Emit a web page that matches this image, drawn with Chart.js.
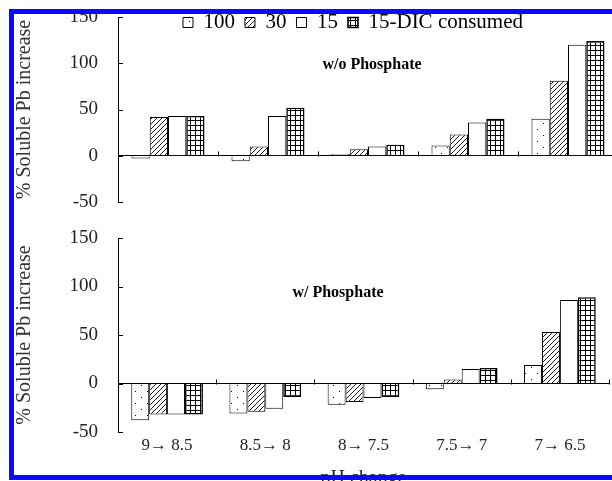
<!DOCTYPE html>
<html>
<head>
<meta charset="utf-8">
<script src="https://cdn.jsdelivr.net/npm/chart.js@4.4.1/dist/chart.umd.min.js"></script>
<style>
  html, body { margin: 0; padding: 0; background: #fff; overflow: hidden; width: 612px; height: 481px; }
  #wrap { position: relative; width: 612px; height: 481px; overflow: hidden; }
  canvas { position: absolute; left: 0; }
  #top { top: 0; }
  #bottom { top: 220px; }
  #frame {
    position: absolute; left: 9px; top: 9px; width: 700px; height: 471px; box-sizing: border-box;
    border-left: 5px solid #0a0aff; border-top: 5px solid #0a0aff; border-bottom: 5px solid #0a0aff;
    pointer-events: none;
  }
</style>
</head>
<body>
<div id="wrap">
  <canvas id="top" width="630" height="220"></canvas>
  <canvas id="bottom" width="630" height="280"></canvas>
  <div id="frame"></div>
</div>
<script>
const categories = ['9\u2192 8.5', '8.5\u2192 8', '8\u2192 7.5', '7.5\u2192 7', '7\u2192 6.5'];
const seriesNames = ['100', '30', '15', '15-DIC consumed'];
const yTicks = [-50, 0, 50, 100, 150];

// w/o phosphate
const noP100 = [-3, -6, 2, 11, 40];
const noP30 = [42, 10, 7, 23, 81];
const noP15 = [43, 43, 10, 36, 120];
const noPDic = [43, 52, 12, 40, 124];

// w/ phosphate
const withP100 = [-38, -31, -22, -6, 19];
const withP30 = [-32, -29, -19, 4, 53];
const withP15 = [-32, -26, -15, 15, 86];
const withPDic = [-32, -14, -14, 16, 89];

const serif = "'Liberation Serif', 'Times New Roman', serif";

function makePattern(type) {
    const c = document.createElement('canvas');
    const size = { dots: [12, 12], hatch: [5, 5], grid: [5, 5] }[type];
    c.width = size[0];
    c.height = size[1];
    const g = c.getContext('2d');
    g.fillStyle = '#fff';
    g.fillRect(0, 0, c.width, c.height);
    g.fillStyle = '#000';
    g.strokeStyle = '#000';
    if (type === 'dots') {
        g.fillRect(3, 3, 1, 1);
        g.fillRect(9, 9, 1, 1);
    } else if (type === 'hatch') {
        g.lineWidth = 0.9;
        g.beginPath();
        g.moveTo(0, 5); g.lineTo(5, 0);
        g.moveTo(-1, 1); g.lineTo(1, -1);
        g.moveTo(4, 6); g.lineTo(6, 4);
        g.stroke();
    } else if (type === 'grid') {
        g.fillRect(0, 0, 5, 1);
        g.fillRect(0, 0, 1, 5);
    }
    return g.createPattern(c, 'repeat');
}

const fills = [makePattern('dots'), makePattern('hatch'), '#fff', makePattern('grid')];
const borders = [1, 1, 1, 1.6];

function buildDatasets(values) {
    return values.map((v, i) => ({
        label: seriesNames[i],
        data: v,
        backgroundColor: fills[i],
        borderColor: '#000',
        borderWidth: borders[i]
    }));
}

// inward axis ticks, category ticks on the zero line, panel caption
const panelMarks = {
    id: 'panelMarks',
    afterDraw(chart, args, opts) {
        const { ctx, scales: { x, y } } = chart;
        const y0 = Math.round(y.getPixelForValue(0)) + 0.5;
        ctx.save();
        ctx.strokeStyle = '#000';
        ctx.lineWidth = 1;
        ctx.beginPath();
        y.ticks.forEach(t => {
            const py = Math.round(y.getPixelForValue(t.value)) + 0.5;
            ctx.moveTo(x.left, py);
            ctx.lineTo(x.left + 5, py);
        });
        for (let i = 1; i <= categories.length; i++) {
            const px = Math.round(x.getPixelForValue(i - 0.5)) + 0.5;
            ctx.moveTo(px, y0);
            ctx.lineTo(px, y0 - 5);
        }
        ctx.stroke();
        ctx.fillStyle = '#000';
        ctx.font = 'bold 16px ' + serif;
        ctx.textAlign = 'center';
        ctx.textBaseline = 'middle';
        ctx.fillText(opts.note, opts.noteX, opts.noteY);
        ctx.restore();
    }
};

// legend takes ~no room in the layout, then gets moved inside the plot
const legendShift = {
    id: 'legendShift',
    afterLayout(chart) {
        const l = chart.legend;
        if (!l || !l.options.display) return;
        l.left += 44; l.right += 44;
        l.top = 2; l.bottom = 47;
    }
};

function yScale() {
    return {
        min: yTicks[0],
        max: yTicks[yTicks.length - 1],
        afterFit: s => {
            s.width = 118;
            s.paddingTop = 0;
            s.paddingBottom = 0;
        },
        ticks: { stepSize: 50, padding: 20, color: '#222', font: { family: serif, size: 19 } },
        grid: {
            drawTicks: false,
            color: c => (c.tick && c.tick.value === 0 ? '#000' : 'rgba(0,0,0,0)'),
            lineWidth: 1
        },
        border: { display: true, color: '#000', width: 1 },
        title: {
            display: true,
            text: '% Soluble Pb increase',
            color: '#333',
            font: { family: serif, size: 20 },
            padding: { top: 13, bottom: 0 }
        }
    };
}

const topChart = new Chart(document.getElementById('top'), {
    type: 'bar',
    data: { labels: categories, datasets: buildDatasets([noP100, noP30, noP15, noPDic]) },
    options: {
        responsive: false,
        animation: false,
        events: [],
        layout: { padding: { left: 0, top: 16, right: 12, bottom: 18 } },
        datasets: { bar: { barPercentage: 1, categoryPercentage: 0.73 } },
        scales: {
            x: { display: false },
            y: yScale()
        },
        plugins: {
            legend: {
                display: true,
                position: 'top',
                align: 'center',
                maxHeight: 1,
                labels: { boxWidth: 10, boxHeight: 10, padding: 10, color: '#000', font: { family: serif, size: 21 } }
            },
            tooltip: { enabled: false },
            panelMarks: { note: 'w/o Phosphate', noteX: 372, noteY: 65 }
        }
    },
    plugins: [panelMarks, legendShift]
});

const bottomChart = new Chart(document.getElementById('bottom'), {
    type: 'bar',
    data: { labels: categories, datasets: buildDatasets([withP100, withP30, withP15, withPDic]) },
    options: {
        responsive: false,
        animation: false,
        events: [],
        layout: { padding: { left: 0, top: 18, right: 21, bottom: 0 } },
        datasets: { bar: { barPercentage: 1, categoryPercentage: 0.73 } },
        scales: {
            x: {
                afterFit: s => { s.height = 68; },
                ticks: { padding: -5, color: '#222', font: { family: serif, size: 17 } },
                grid: { display: false },
                border: { display: false },
                title: {
                    display: true,
                    text: 'pH change',
                    color: '#222',
                    font: { family: serif, size: 20 },
                    padding: { top: 0, bottom: 9 }
                }
            },
            y: yScale()
        },
        plugins: {
            legend: { display: false },
            tooltip: { enabled: false },
            panelMarks: { note: 'w/ Phosphate', noteX: 338, noteY: 73 }
        }
    },
    plugins: [panelMarks]
});
</script>
</body>
</html>
